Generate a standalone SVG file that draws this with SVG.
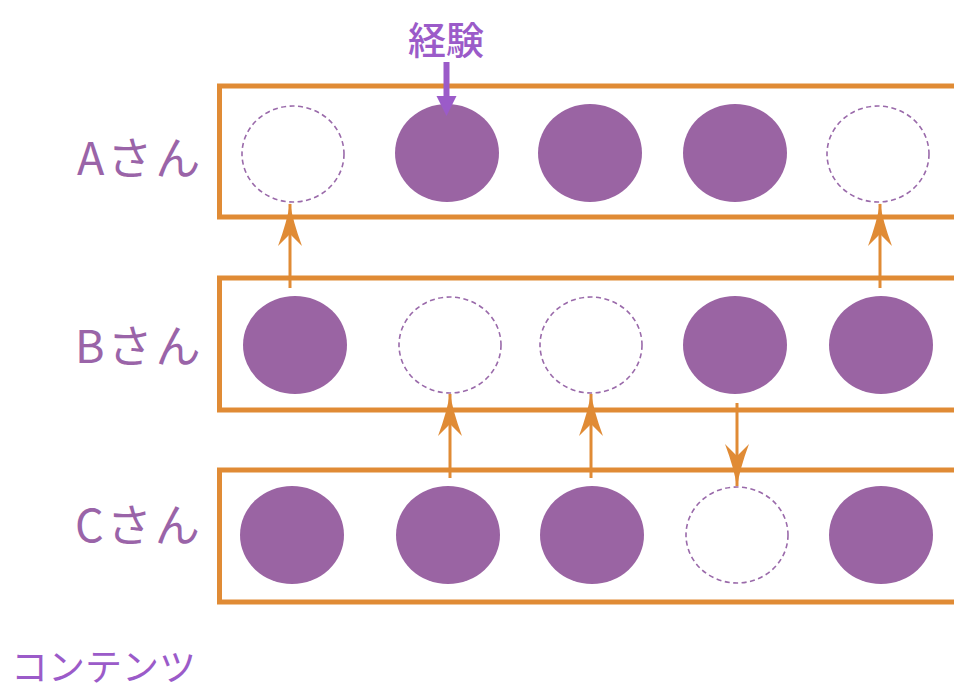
<svg xmlns="http://www.w3.org/2000/svg" width="954" height="693" viewBox="0 0 954 693">
<defs>
<style>
.row{fill:none;stroke:#E08B35;stroke-width:5}
.full{fill:#9A64A3}
.empty{fill:none;stroke:#9A6AAA;stroke-width:1.6;stroke-dasharray:5 3.5}
.lbl{font-family:"Noto Sans CJK JP","Noto Sans",sans-serif;font-size:45px;fill:#9A64A8;letter-spacing:3px}
.cap{font-family:"Noto Sans CJK JP","Noto Sans",sans-serif;fill:#9B5BC9}
.flow{stroke:#E08B35;stroke-width:3;fill:none;marker-end:url(#ah)}
</style>
<marker id="ah" viewBox="-44 -13 46 26" refX="0" refY="0" markerWidth="46" markerHeight="26" markerUnits="userSpaceOnUse" orient="auto">
<path d="M1,0 Q-18,3 -42,12 L-30,0 L-42,-12 Q-18,-3 1,0 Z" fill="#E08B35"/>
</marker>
</defs>
<rect width="954" height="693" fill="#fff"/>
<g id="rowA">
<rect class="row" x="219.5" y="86" width="750" height="131"/>
<text class="lbl" x="77" y="175">Aさん</text>
<ellipse class="empty" cx="293" cy="154" rx="51" ry="48"/>
<ellipse class="full" cx="447" cy="153" rx="52" ry="49"/>
<ellipse class="full" cx="590" cy="153" rx="52" ry="49"/>
<ellipse class="full" cx="735" cy="153" rx="52" ry="49"/>
<ellipse class="empty" cx="878" cy="154" rx="51" ry="48"/>
</g>
<g id="rowB">
<rect class="row" x="219.5" y="278" width="750" height="132"/>
<text class="lbl" x="75" y="363">Bさん</text>
<ellipse class="full" cx="295" cy="345" rx="52" ry="49"/>
<ellipse class="empty" cx="450" cy="345" rx="51" ry="48"/>
<ellipse class="empty" cx="591" cy="345" rx="51" ry="48"/>
<ellipse class="full" cx="735" cy="345" rx="52" ry="49"/>
<ellipse class="full" cx="881" cy="345" rx="52" ry="49"/>
</g>
<g id="rowC">
<rect class="row" x="219.5" y="470" width="750" height="132"/>
<text class="lbl" x="75" y="542">Cさん</text>
<ellipse class="full" cx="292" cy="535" rx="52" ry="49"/>
<ellipse class="full" cx="448" cy="535" rx="52" ry="49"/>
<ellipse class="full" cx="592" cy="535" rx="52" ry="49"/>
<ellipse class="empty" cx="737" cy="535" rx="51" ry="48"/>
<ellipse class="full" cx="881" cy="535" rx="52" ry="49"/>
</g>
<g id="experience">
<text class="cap" x="446" y="54" font-size="38" font-weight="500" text-anchor="middle">経験</text>
<line x1="446.5" y1="62" x2="446.5" y2="100" stroke="#9B5BC9" stroke-width="6"/>
<path d="M436.5,96 L456.5,96 L446.5,116 Z" fill="#9B5BC9"/>
</g>
<g id="contents">
<text class="cap" x="11" y="681" font-size="37">コンテンツ</text>
</g>
<g id="connectors">
<line class="flow" x1="290" y1="288" x2="290" y2="204"/>
<line class="flow" x1="880" y1="288" x2="880" y2="204"/>
<line class="flow" x1="450" y1="478" x2="450" y2="394"/>
<line class="flow" x1="591" y1="478" x2="591" y2="394"/>
<line class="flow" x1="737" y1="403" x2="737" y2="486"/>
</g>
</svg>
